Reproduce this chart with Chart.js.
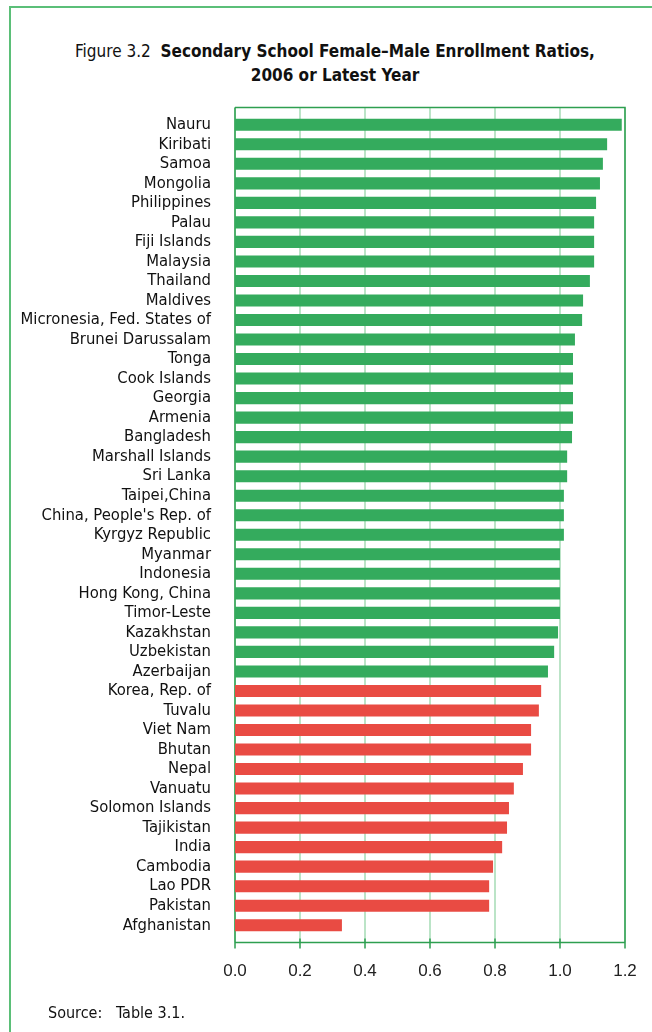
<!DOCTYPE html>
<html>
<head>
<meta charset="utf-8">
<script src="https://cdn.jsdelivr.net/npm/chart.js@4.4.0/dist/chart.umd.min.js"></script>
<style>
  html, body { margin: 0; padding: 0; background: #fff; }
  body { width: 652px; height: 1032px; position: relative; overflow: hidden;
         font-family: "DejaVu Sans Condensed", "Liberation Sans", sans-serif; color: #111; }
  #frame { position: absolute; left: 9px; top: 6px; width: 700px; height: 1040px;
           border-left: 2px solid #5bbf78; border-top: 2px solid #5bbf78; }
  #title { position: absolute; left: 0; top: 39px; width: 670px; text-align: center;
           font-size: 17px; line-height: 24px; }
  #title b { font-weight: bold; }
  #source { position: absolute; left: 48px; top: 1003px; font-size: 16px; }
  #wrap { position: absolute; left: 0; top: 0; width: 652px; height: 1032px; }
</style>
</head>
<body>
<div id="frame"></div>
<div id="title">Figure 3.2&nbsp; <b>Secondary School Female–Male Enrollment Ratios,</b><br><b>2006 or Latest Year</b></div>
<div id="wrap"><canvas id="chart"></canvas></div>
<div id="source">Source:&nbsp;&nbsp; Table 3.1.</div>
<script>
const countries = [
    "Nauru", "Kiribati", "Samoa", "Mongolia", "Philippines", "Palau", "Fiji Islands",
    "Malaysia", "Thailand", "Maldives", "Micronesia, Fed. States of", "Brunei Darussalam",
    "Tonga", "Cook Islands", "Georgia", "Armenia", "Bangladesh", "Marshall Islands",
    "Sri Lanka", "Taipei,China", "China, People's Rep. of", "Kyrgyz Republic", "Myanmar",
    "Indonesia", "Hong Kong, China", "Timor-Leste", "Kazakhstan", "Uzbekistan", "Azerbaijan",
    "Korea, Rep. of", "Tuvalu", "Viet Nam", "Bhutan", "Nepal", "Vanuatu", "Solomon Islands",
    "Tajikistan", "India", "Cambodia", "Lao PDR", "Pakistan", "Afghanistan"
];
const ratios = [
    1.19, 1.145, 1.132, 1.123, 1.111, 1.105, 1.105,
    1.105, 1.092, 1.071, 1.068, 1.046,
    1.04, 1.04, 1.04, 1.04, 1.037, 1.022,
    1.022, 1.012, 1.012, 1.012, 1.0,
    1.0, 1.0, 1.0, 0.994, 0.982, 0.963,
    0.942, 0.935, 0.911, 0.911, 0.886, 0.858, 0.843,
    0.837, 0.822, 0.794, 0.782, 0.782, 0.329
];
const xTicks = [0, 0.2, 0.4, 0.6, 0.8, 1.0, 1.2];
const greenCount = 29; // Nauru .. Azerbaijan

const GREEN = "#34ab5d", RED = "#e94b43";
const barColors = ratios.map((v, i) => i < greenCount ? GREEN : RED);

const PAD = 7.5; // frame sits a little outside the bar band
const framePlugin = {
    id: "frame",
    beforeDatasetsDraw(chart) {
        const { ctx, chartArea: a, scales: { x } } = chart;
        const top = a.top - PAD, bottom = a.bottom + PAD;
        ctx.save();
        ctx.lineWidth = 1.5;
        ctx.strokeStyle = "#a4dbb5";
        xTicks.forEach(t => {
            const px = x.getPixelForValue(t);
            ctx.beginPath();
            ctx.moveTo(px, top);
            ctx.lineTo(px, bottom);
            ctx.stroke();
        });
        ctx.strokeStyle = "#2e9f50";
        ctx.beginPath();
        ctx.moveTo(a.left, top);
        ctx.lineTo(a.right, top);
        ctx.lineTo(a.right, bottom);
        ctx.moveTo(a.left, bottom);
        ctx.lineTo(a.right, bottom);
        ctx.moveTo(a.left, top);
        ctx.lineTo(a.left, bottom);
        xTicks.forEach(t => {
            const px = x.getPixelForValue(t);
            ctx.moveTo(px, bottom - 4);
            ctx.lineTo(px, bottom + 6);
        });
        ctx.stroke();
        ctx.restore();
    }
};

new Chart(document.getElementById("chart"), {
    type: "bar",
    data: {
        labels: countries,
        datasets: [{
            data: ratios,
            backgroundColor: barColors,
            barPercentage: 0.62,
            categoryPercentage: 1.0
        }]
    },
    options: {
        indexAxis: "y",
        responsive: true,
        maintainAspectRatio: false,
        animation: false,
        layout: { padding: { top: 115, right: 27, left: 0, bottom: 0 } },
        plugins: { legend: { display: false }, tooltip: { enabled: false } },
        scales: {
            x: {
                min: 0, max: 1.2,
                afterFit: s => { s.height = 97; s.paddingRight = 11; },
                afterBuildTicks: s => { s.ticks = xTicks.map(v => ({ value: v })); },
                grid: { display: false },
                border: { display: false },
                ticks: {
                    padding: 18,
                    color: "#222",
                    font: { family: "Liberation Sans, Arial, sans-serif", size: 17 },
                    callback: v => v.toFixed(1)
                }
            },
            y: {
                afterFit: s => { s.width = 235; },
                grid: { display: false },
                border: { display: false },
                ticks: {
                    padding: 16,
                    autoSkip: false,
                    color: "#111",
                    font: { family: "DejaVu Sans Condensed, Liberation Sans, sans-serif", size: 16.5 }
                }
            }
        }
    },
    plugins: [framePlugin]
});
</script>
</body>
</html>
